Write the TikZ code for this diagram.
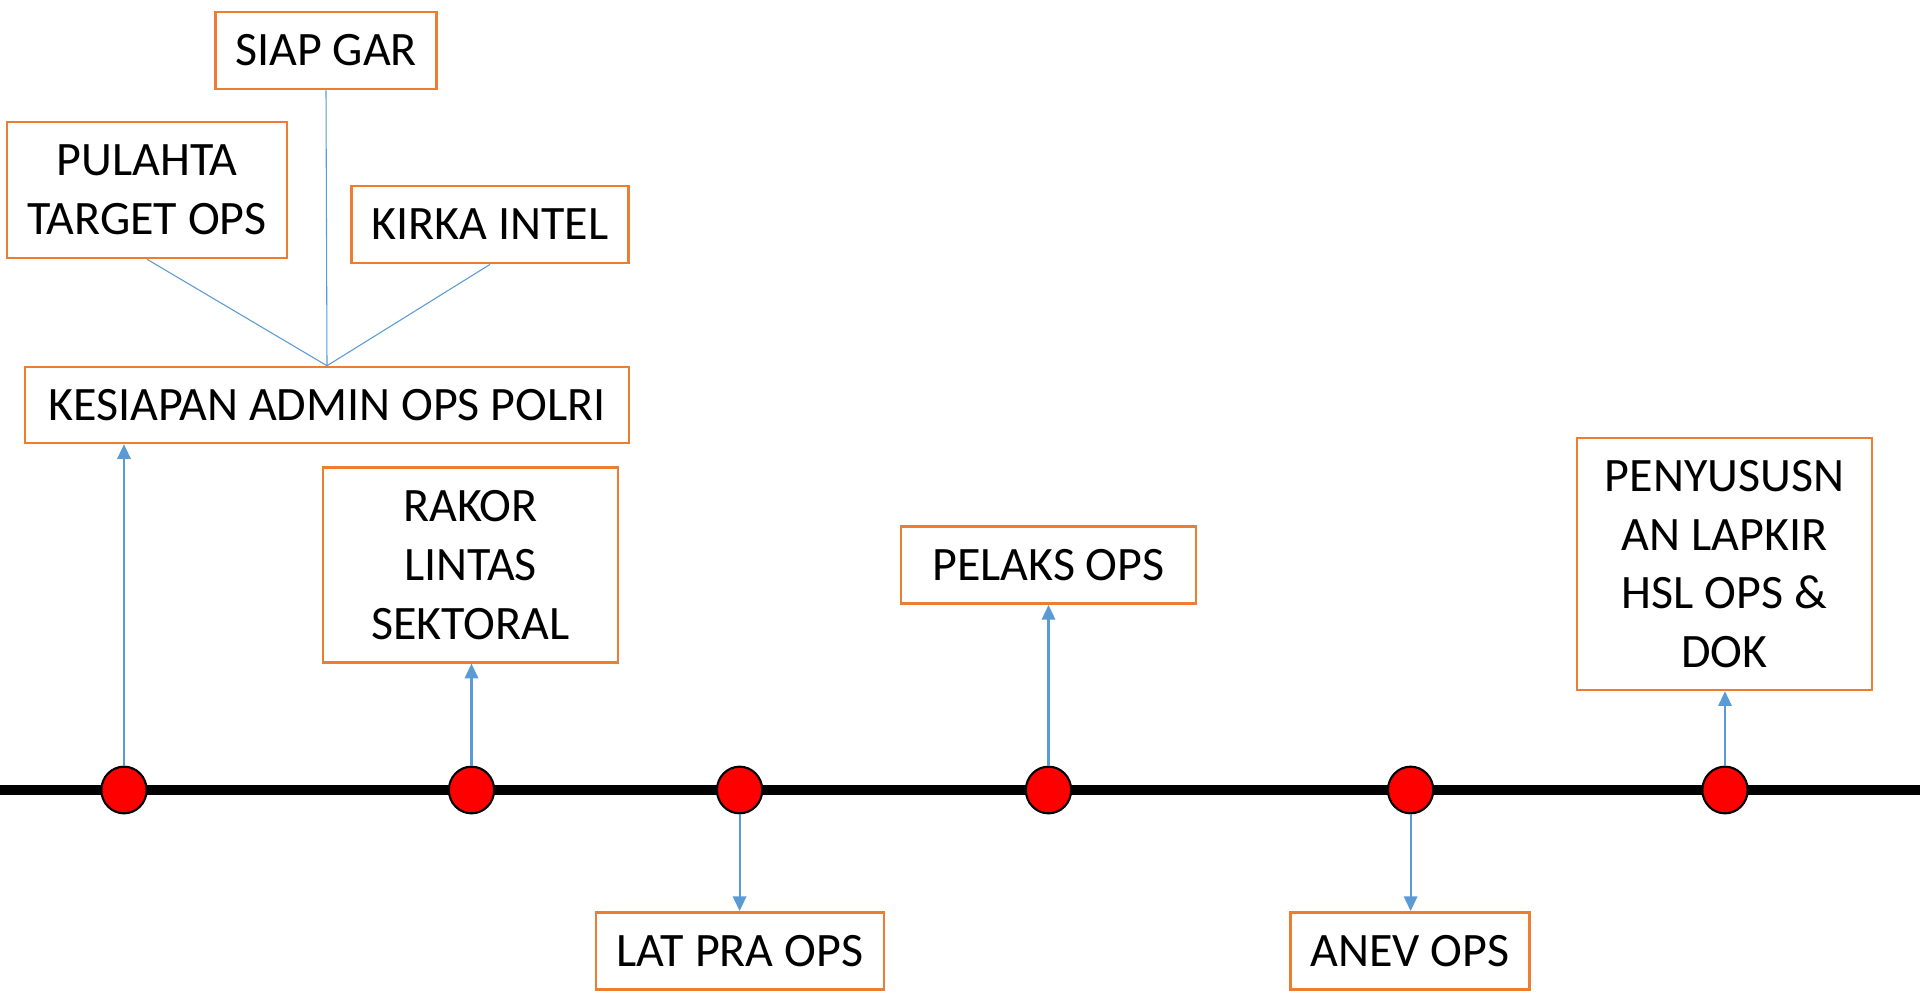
\documentclass[tikz,border=0pt]{standalone}
\usepackage{fontspec}
\setmainfont{Carlito}
\usetikzlibrary{arrows.meta,shapes.geometric}
\definecolor{boxorange}{HTML}{ED7D31}
\definecolor{linkblue}{HTML}{5B9BD5}
\begin{document}
\begin{tikzpicture}[x=0.75pt,y=-0.75pt,
  box/.style={draw=boxorange,line width=1.9pt,rectangle,inner sep=0pt,align=center,
    font=\fontsize{36}{44}\selectfont},
  dot/.style={draw=black,line width=1.6pt,fill=red,ellipse,inner sep=0pt,minimum width=34pt,minimum height=35pt},
  arr/.style={draw=linkblue,line width=1.6pt,-{Triangle[length=11pt,width=10pt]}},
  fan/.style={draw=linkblue,line width=0.8pt}]
\fill[white] (0,0) rectangle (1920,995);
\useasboundingbox (0,0) rectangle (1920,995);
% timeline
\coordinate (tl) at (0,790);
\coordinate (tr) at (1920,790);
\draw[line width=7.5pt] (tl) -- (tr);
% boxes
\node[box,minimum width=166pt,minimum height=58pt] (siap) at (326,50.5) {SIAP GAR};
\node[box,minimum width=210pt,minimum height=102pt] (pulahta) at (147,190) {PULAHTA\\TARGET OPS};
\node[box,minimum width=208pt,minimum height=58pt] (kirka) at (490,224.5) {KIRKA INTEL};
\node[box,minimum width=453pt,minimum height=57pt] (kesiapan) at (327,405) {KESIAPAN ADMIN OPS POLRI};
\node[box,minimum width=221pt,minimum height=146pt] (rakor) at (470.5,565) {RAKOR\\LINTAS\\SEKTORAL};
\node[box,minimum width=216pt,minimum height=58pt] (lat) at (740,951) {LAT PRA OPS};
\node[box,minimum width=221pt,minimum height=58pt] (pelaks) at (1048.5,565) {PELAKS OPS};
\node[box,minimum width=179pt,minimum height=58pt] (anev) at (1410,951) {ANEV OPS};
\node[box,minimum width=221pt,minimum height=189pt] (penyu) at (1724.5,564) {PENYUSUSN\\AN LAPKIR\\HSL OPS \&\\DOK};
% dots
\node[dot] (d1) at (124,790) {};
\node[dot] (d2) at (471.5,790) {};
\node[dot] (d3) at (739.6,790) {};
\node[dot] (d4) at (1048.5,790) {};
\node[dot] (d5) at (1410.6,790) {};
\node[dot] (d6) at (1725,790) {};
% fan lines
\draw[fan] (pulahta.south) -- (kesiapan.north);
\draw[fan] (siap.south) -- (kesiapan.north);
\draw[fan] (kirka.south) -- (kesiapan.north);
% arrows
\draw[arr] (d1.north) -- (kesiapan.south -| d1.north);
\draw[arr] (d2.north) -- (rakor.south -| d2.north);
\draw[arr] (d3.south) -- (lat.north -| d3.south);
\draw[arr] (d4.north) -- (pelaks.south -| d4.north);
\draw[arr] (d5.south) -- (anev.north -| d5.south);
\draw[arr] (d6.north) -- (penyu.south -| d6.north);
\end{tikzpicture}
\end{document}
